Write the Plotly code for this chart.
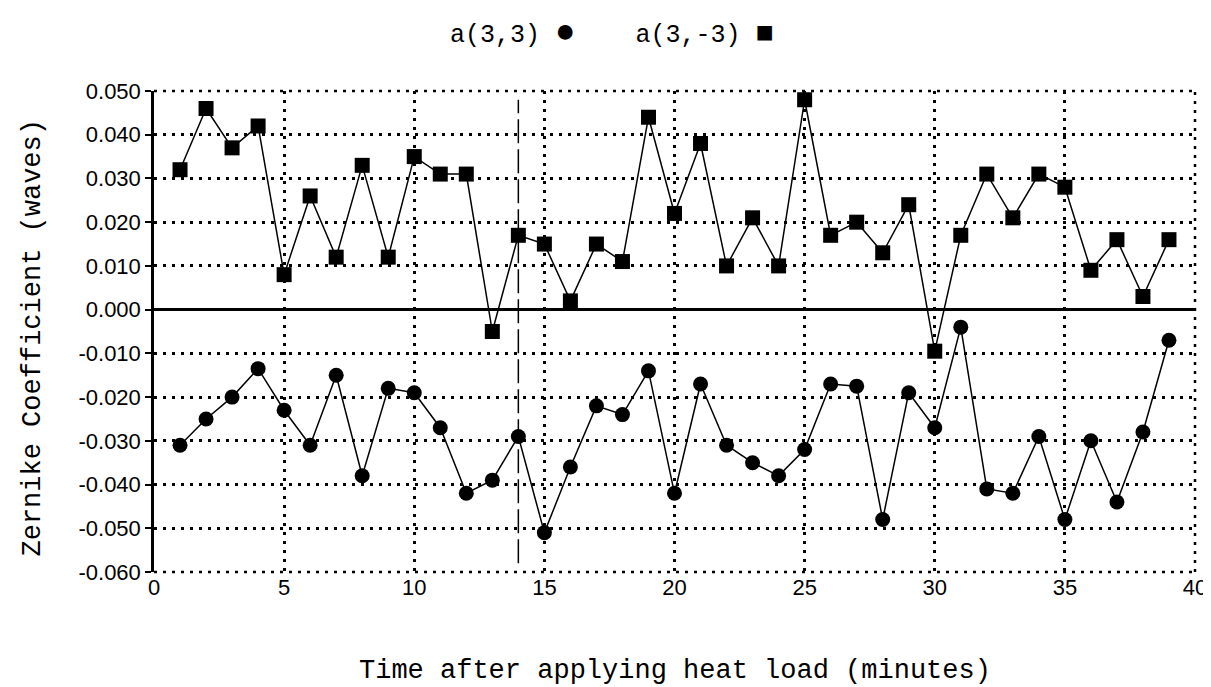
import plotly.graph_objects as go

# ---- data ----
minutes = list(range(1, 40))
a33 = [-0.031, -0.025, -0.020, -0.0135, -0.023, -0.031, -0.015, -0.038, -0.018, -0.019,
       -0.027, -0.042, -0.039, -0.029, -0.051, -0.036, -0.022, -0.024, -0.014, -0.042,
       -0.017, -0.031, -0.035, -0.038, -0.032, -0.017, -0.0175, -0.048, -0.019, -0.027,
       -0.004, -0.041, -0.042, -0.029, -0.048, -0.030, -0.044, -0.028, -0.007]
a3m3 = [0.032, 0.046, 0.037, 0.042, 0.008, 0.026, 0.012, 0.033, 0.012, 0.035,
        0.031, 0.031, -0.005, 0.017, 0.015, 0.002, 0.015, 0.011, 0.044, 0.022,
        0.038, 0.010, 0.021, 0.010, 0.048, 0.017, 0.020, 0.013, 0.024, -0.0095,
        0.017, 0.031, 0.021, 0.031, 0.028, 0.009, 0.016, 0.003, 0.016]
x_ticks = [0, 5, 10, 15, 20, 25, 30, 35, 40]
y_ticks = [-0.06, -0.05, -0.04, -0.03, -0.02, -0.01, 0.0, 0.01, 0.02, 0.03, 0.04, 0.05]
y_tick_labels = ["-0.060", "-0.050", "-0.040", "-0.030", "-0.020", "-0.010",
                 "0.000", "0.010", "0.020", "0.030", "0.040", "0.050"]
heat_load_minute = 14
x_title = "Time after applying heat load (minutes)"
y_title = "Zernike Coefficient (waves)"
legend_names = ["a(3,3)", "a(3,-3)"]

mono = "Liberation Mono, DejaVu Sans Mono, monospace"
sans = "Liberation Sans, Arial, sans-serif"
dotted = "3px,6px"

fig = go.Figure()
fig.add_trace(go.Scatter(x=minutes, y=a33, mode="lines+markers", name=legend_names[0],
                         line=dict(color="black", width=1.5),
                         marker=dict(symbol="circle", size=15, color="black")))
fig.add_trace(go.Scatter(x=minutes, y=a3m3, mode="lines+markers", name=legend_names[1],
                         line=dict(color="black", width=1.5),
                         marker=dict(symbol="square", size=15, color="black")))

# heat-load marker line
fig.add_shape(type="line", xref="x", yref="y", x0=heat_load_minute, x1=heat_load_minute,
              y0=-0.058, y1=0.048, line=dict(color="black", width=1.5, dash="24px,6px"))
# dotted frame on top, right and bottom (gridlines at range edges)
for (x0, y0, x1, y1) in [(0, 1, 1, 1), (1, 0, 1, 1), (0, 0, 1, 0)]:
    fig.add_shape(type="line", xref="paper", yref="paper", x0=x0, y0=y0, x1=x1, y1=y1,
                  line=dict(color="black", width=2.5, dash=dotted), layer="below")

legend_text = (legend_names[0] + ' <span style="font-size:34px">●</span>'
               + "    " + legend_names[1] + ' <span style="font-size:30px">■</span>')

fig.update_layout(
    width=1211, height=687,
    margin=dict(l=146, r=16, t=83, b=123),
    paper_bgcolor="white", plot_bgcolor="white",
    showlegend=False,
    font=dict(family=sans, color="black", size=22),
    annotations=[
        dict(text=legend_text, xref="paper", yref="paper", x=0.2822, y=1.12,
             xanchor="left", yanchor="middle", showarrow=False,
             font=dict(family=mono, size=25, color="black")),
        dict(text=x_title, xref="paper", yref="paper", x=0.5, y=-0.205,
             xanchor="center", yanchor="middle", showarrow=False,
             font=dict(family=mono, size=27, color="black")),
        dict(text=y_title, xref="paper", yref="paper", x=-0.1167, y=0.4865,
             xanchor="center", yanchor="middle", showarrow=False, textangle=-90,
             font=dict(family=mono, size=27, color="black")),
    ],
)
fig.update_xaxes(range=[0, 40], tickvals=x_ticks, ticks="", showline=False,
                 showgrid=True, gridcolor="black", gridwidth=2.5, griddash=dotted,
                 zeroline=False, tickfont=dict(family=sans, size=22))
fig.update_yaxes(range=[-0.06, 0.05], tickvals=y_ticks, ticktext=y_tick_labels,
                 ticks="outside", ticklen=6, tickwidth=2, tickcolor="black",
                 showline=True, linecolor="black", linewidth=2.5,
                 showgrid=True, gridcolor="black", gridwidth=2.5, griddash=dotted,
                 zeroline=True, zerolinecolor="black", zerolinewidth=2.5,
                 tickfont=dict(family=sans, size=22))

fig.write_html("out.html")
